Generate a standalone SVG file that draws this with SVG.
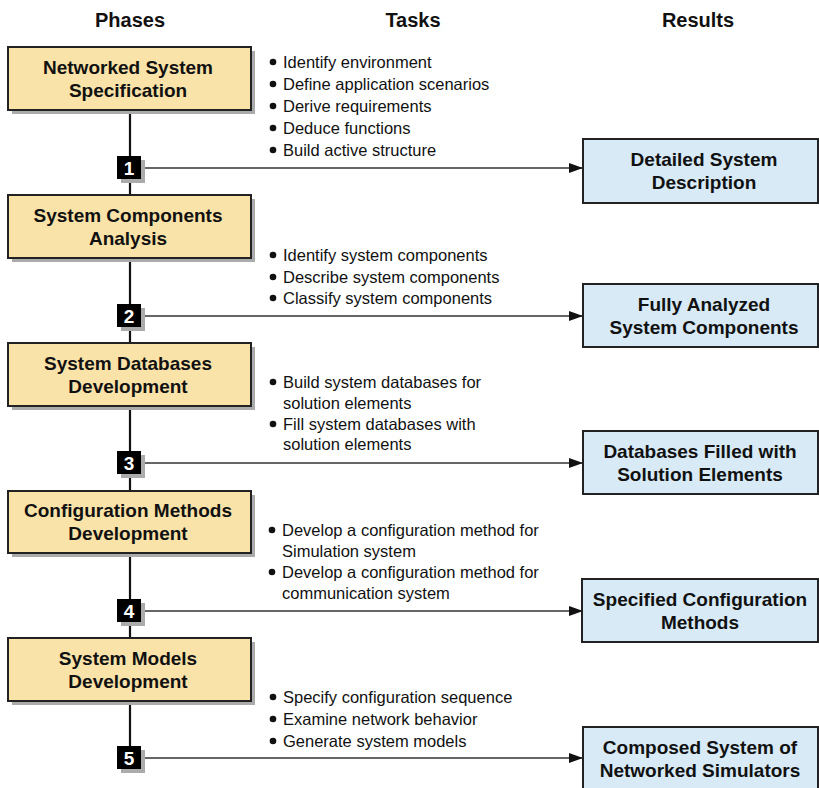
<svg xmlns="http://www.w3.org/2000/svg" width="819" height="788" viewBox="0 0 819 788">
  <style>
    .hdr { font-family: "Liberation Sans", Arial, sans-serif; font-weight: bold; font-size: 20px; fill: #111; text-anchor: middle; }
    .lbl { font-family: "Liberation Sans", Arial, sans-serif; font-weight: bold; font-size: 19px; fill: #111; text-anchor: middle; }
    .task { font-family: "Liberation Sans", Arial, sans-serif; font-size: 16.5px; fill: #111; }
    .num { font-family: "Liberation Sans", Arial, sans-serif; font-weight: bold; font-size: 19px; fill: #fff; text-anchor: middle; }
    .phase { fill: #FAE3A8; stroke: #222; stroke-width: 2; }
    .result { fill: #D7EAF6; stroke: #222; stroke-width: 2; }
    .shadow { fill: #ABABAB; }
    .spine { stroke: #111; stroke-width: 2.2; fill: none; }
    .flow { stroke: #333; stroke-width: 1.3; fill: none; marker-end: url(#arrow); }
    .dot { fill: #111; }
  </style>
  <defs>
    <marker id="arrow" markerWidth="14" markerHeight="10" refX="14" refY="5" orient="auto" markerUnits="userSpaceOnUse">
      <path d="M0,0 L14,5 L0,10 Z" fill="#111"/>
    </marker>
  </defs>
  <rect width="819" height="788" fill="#fff"/>

  <!-- column headers -->
  <text class="hdr" x="130" y="27">Phases</text>
  <text class="hdr" x="413" y="27">Tasks</text>
  <text class="hdr" x="698" y="27">Results</text>

  <!-- spine and result arrows -->
  <g id="connectors">
    <line class="spine" x1="130" y1="110" x2="130" y2="195"/>
    <line class="spine" x1="130" y1="258" x2="130" y2="343"/>
    <line class="spine" x1="130" y1="406" x2="130" y2="491"/>
    <line class="spine" x1="130" y1="553" x2="130" y2="638"/>
    <line class="spine" x1="130" y1="701" x2="130" y2="748"/>
    <line class="flow" x1="142" y1="168" x2="583" y2="168"/>
    <line class="flow" x1="142" y1="316" x2="583" y2="316"/>
    <line class="flow" x1="142" y1="463" x2="583" y2="463"/>
    <line class="flow" x1="142" y1="611" x2="583" y2="611"/>
    <line class="flow" x1="142" y1="758" x2="583" y2="758"/>
  </g>

  <!-- phases -->
  <g id="phase1">
    <rect class="shadow" x="12" y="51" width="243" height="63"/>
    <rect class="phase" x="8" y="47" width="243" height="63"/>
    <text class="lbl" x="128" y="74">Networked System</text>
    <text class="lbl" x="128" y="97">Specification</text>
  </g>
  <g id="phase2">
    <rect class="shadow" x="12" y="199" width="243" height="63"/>
    <rect class="phase" x="8" y="195" width="243" height="63"/>
    <text class="lbl" x="128" y="222">System Components</text>
    <text class="lbl" x="128" y="245">Analysis</text>
  </g>
  <g id="phase3">
    <rect class="shadow" x="12" y="347" width="243" height="63"/>
    <rect class="phase" x="8" y="343" width="243" height="63"/>
    <text class="lbl" x="128" y="370">System Databases</text>
    <text class="lbl" x="128" y="393">Development</text>
  </g>
  <g id="phase4">
    <rect class="shadow" x="12" y="495" width="243" height="62"/>
    <rect class="phase" x="8" y="491" width="243" height="62"/>
    <text class="lbl" x="128" y="517">Configuration Methods</text>
    <text class="lbl" x="128" y="540">Development</text>
  </g>
  <g id="phase5">
    <rect class="shadow" x="12" y="642" width="243" height="63"/>
    <rect class="phase" x="8" y="638" width="243" height="63"/>
    <text class="lbl" x="128" y="665">System Models</text>
    <text class="lbl" x="128" y="688">Development</text>
  </g>

  <!-- step markers -->
  <g id="step1">
    <rect class="shadow" x="121" y="160" width="24" height="23"/>
    <rect x="117" y="156" width="24" height="23" fill="#000"/>
    <text class="num" x="129" y="174.5">1</text>
  </g>
  <g id="step2">
    <rect class="shadow" x="121" y="308" width="24" height="23"/>
    <rect x="117" y="304" width="24" height="23" fill="#000"/>
    <text class="num" x="129" y="322.5">2</text>
  </g>
  <g id="step3">
    <rect class="shadow" x="121" y="455" width="24" height="23"/>
    <rect x="117" y="451" width="24" height="23" fill="#000"/>
    <text class="num" x="129" y="469.5">3</text>
  </g>
  <g id="step4">
    <rect class="shadow" x="121" y="603" width="24" height="23"/>
    <rect x="117" y="599" width="24" height="23" fill="#000"/>
    <text class="num" x="129" y="617.5">4</text>
  </g>
  <g id="step5">
    <rect class="shadow" x="121" y="750" width="24" height="23"/>
    <rect x="117" y="746" width="24" height="23" fill="#000"/>
    <text class="num" x="129" y="764.5">5</text>
  </g>

  <!-- tasks -->
  <g id="tasks1">
    <circle class="dot" cx="273" cy="62" r="3.3"/>
    <text class="task" x="283" y="68">Identify environment</text>
    <circle class="dot" cx="273" cy="84" r="3.3"/>
    <text class="task" x="283" y="90">Define application scenarios</text>
    <circle class="dot" cx="273" cy="106" r="3.3"/>
    <text class="task" x="283" y="112">Derive requirements</text>
    <circle class="dot" cx="273" cy="128" r="3.3"/>
    <text class="task" x="283" y="134">Deduce functions</text>
    <circle class="dot" cx="273" cy="150" r="3.3"/>
    <text class="task" x="283" y="156">Build active structure</text>
  </g>
  <g id="tasks2">
    <circle class="dot" cx="273" cy="255" r="3.3"/>
    <text class="task" x="283" y="261">Identify system components</text>
    <circle class="dot" cx="273" cy="277" r="3.3"/>
    <text class="task" x="283" y="283">Describe system components</text>
    <circle class="dot" cx="273" cy="298" r="3.3"/>
    <text class="task" x="283" y="304">Classify system components</text>
  </g>
  <g id="tasks3">
    <circle class="dot" cx="273" cy="382" r="3.3"/>
    <text class="task" x="283" y="388">Build system databases for</text>
    <text class="task" x="283" y="409">solution elements</text>
    <circle class="dot" cx="273" cy="424" r="3.3"/>
    <text class="task" x="283" y="430">Fill system databases with</text>
    <text class="task" x="283" y="450">solution elements</text>
  </g>
  <g id="tasks4">
    <circle class="dot" cx="272" cy="530" r="3.3"/>
    <text class="task" x="282" y="536">Develop a configuration method for</text>
    <text class="task" x="282" y="557">Simulation system</text>
    <circle class="dot" cx="272" cy="572" r="3.3"/>
    <text class="task" x="282" y="578">Develop a configuration method for</text>
    <text class="task" x="282" y="599">communication system</text>
  </g>
  <g id="tasks5">
    <circle class="dot" cx="273" cy="697" r="3.3"/>
    <text class="task" x="283" y="703">Specify configuration sequence</text>
    <circle class="dot" cx="273" cy="719" r="3.3"/>
    <text class="task" x="283" y="725">Examine network behavior</text>
    <circle class="dot" cx="273" cy="741" r="3.3"/>
    <text class="task" x="283" y="747">Generate system models</text>
  </g>

  <!-- results -->
  <g id="result1">
    <rect class="result" x="583" y="139" width="235" height="64"/>
    <text class="lbl" x="704" y="166">Detailed System</text>
    <text class="lbl" x="704" y="189">Description</text>
  </g>
  <g id="result2">
    <rect class="result" x="583" y="284" width="235" height="63"/>
    <text class="lbl" x="704" y="311">Fully Analyzed</text>
    <text class="lbl" x="704" y="334">System Components</text>
  </g>
  <g id="result3">
    <rect class="result" x="583" y="431" width="235" height="63"/>
    <text class="lbl" x="700" y="458">Databases Filled with</text>
    <text class="lbl" x="700" y="481">Solution Elements</text>
  </g>
  <g id="result4">
    <rect class="result" x="582" y="579" width="236" height="63"/>
    <text class="lbl" x="700" y="606">Specified Configuration</text>
    <text class="lbl" x="700" y="629">Methods</text>
  </g>
  <g id="result5">
    <rect class="result" x="583" y="727" width="235" height="66"/>
    <text class="lbl" x="700" y="754">Composed System of</text>
    <text class="lbl" x="700" y="777">Networked Simulators</text>
  </g>
</svg>
